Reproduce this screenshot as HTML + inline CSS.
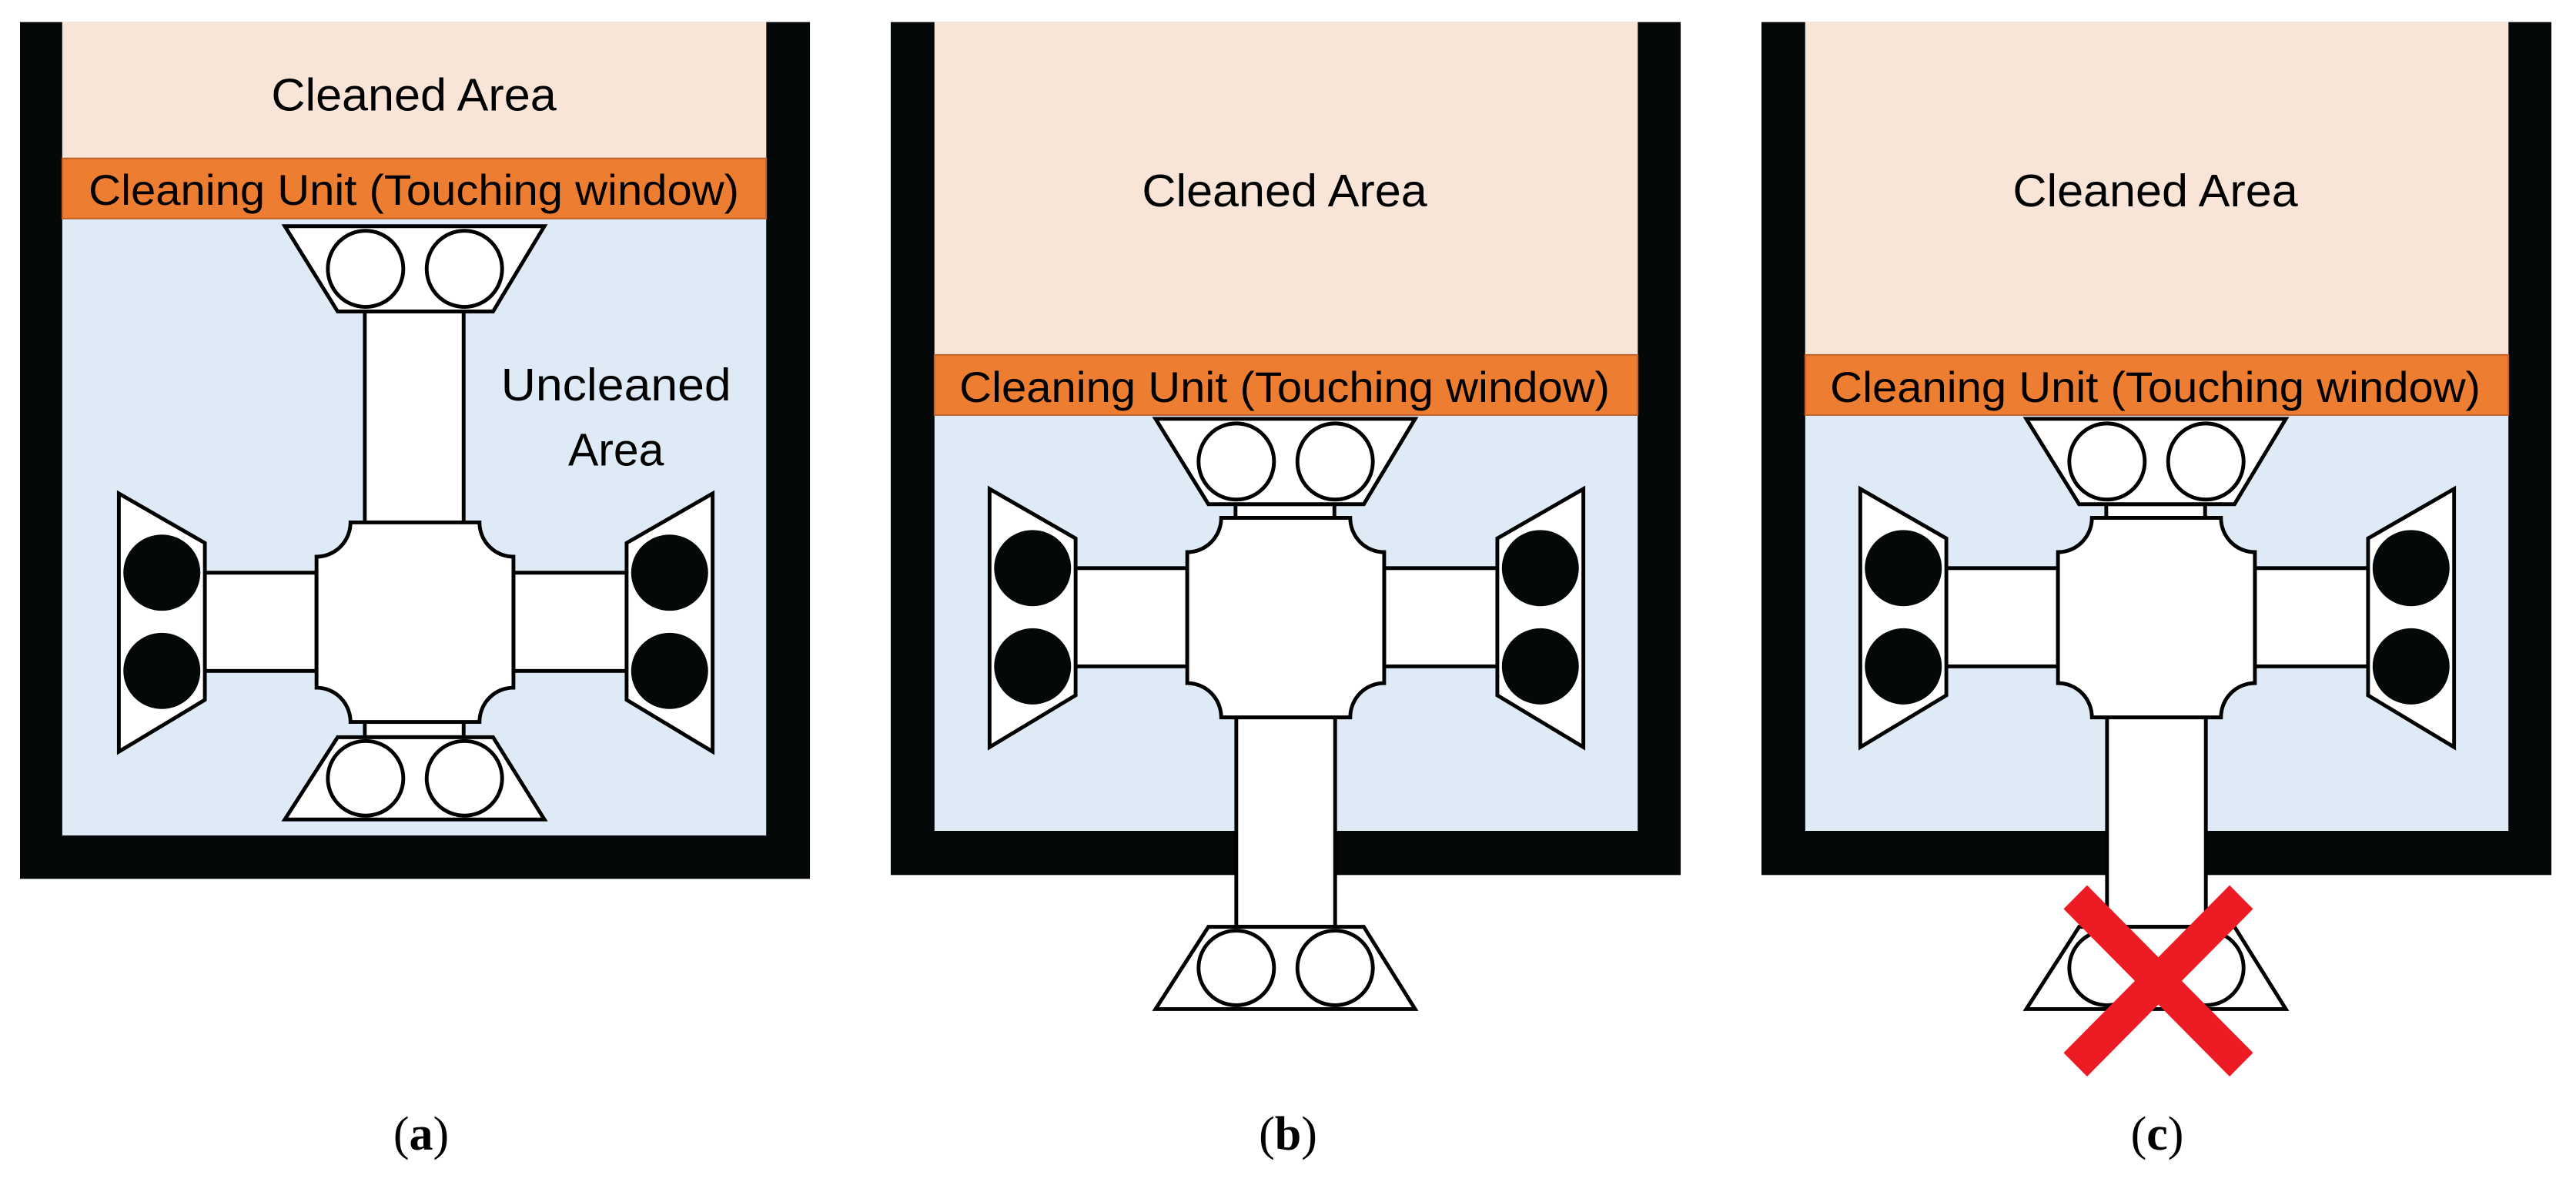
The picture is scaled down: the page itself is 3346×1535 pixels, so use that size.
<!DOCTYPE html>
<html><head><meta charset="utf-8"><style>
html,body{margin:0;padding:0;background:#fff}
svg{display:block}
text{font-family:"Liberation Sans",sans-serif;fill:#000}
</style></head><body>
<svg width="3346" height="1535" viewBox="0 0 3346 1535" xmlns="http://www.w3.org/2000/svg">
<defs>
<g id="side">
  <rect x="271" y="752" width="148" height="129" fill="#fff" stroke="#000" stroke-width="5"/>
  <rect x="680" y="752" width="150" height="129" fill="#fff" stroke="#000" stroke-width="5"/>
  <polygon points="157,648 271,713 271,919 157,987" fill="#fff" stroke="#000" stroke-width="5"/>
  <ellipse cx="214" cy="752" rx="51" ry="50" fill="#040809"/>
  <ellipse cx="214" cy="881" rx="51" ry="50" fill="#040809"/>
  <polygon points="944,648 830,713 830,919 944,987" fill="#fff" stroke="#000" stroke-width="5"/>
  <ellipse cx="887" cy="752" rx="51" ry="50" fill="#040809"/>
  <ellipse cx="887" cy="881" rx="51" ry="50" fill="#040809"/>
  <path d="M464,686 H635 A45,45 0 0 0 680,731 V903 A45,45 0 0 0 635,948 H464 A45,45 0 0 0 419,903 V731 A45,45 0 0 0 464,686 Z" fill="#fff" stroke="#000" stroke-width="5"/>
</g>
<g id="toptrap">
  <polygon points="377,0 721,0 653,112 447,112" fill="#fff" stroke="#000" stroke-width="5"/>
  <ellipse cx="484" cy="56" rx="50" ry="50" fill="#fff" stroke="#000" stroke-width="5"/>
  <ellipse cx="615" cy="56" rx="50" ry="50" fill="#fff" stroke="#000" stroke-width="5"/>
</g>
<g id="bottrap">
  <polygon points="447,0 653,0 721,108 377,108" fill="#fff" stroke="#000" stroke-width="5"/>
  <ellipse cx="484" cy="54" rx="50" ry="49" fill="#fff" stroke="#000" stroke-width="5"/>
  <ellipse cx="615" cy="54" rx="50" ry="49" fill="#fff" stroke="#000" stroke-width="5"/>
</g>
</defs>

<!-- Panel a -->
<g>
 <g transform="translate(26,0) scale(0.98,0.989) translate(-26,0)">
  <rect x="26" y="29" width="1047" height="1125" fill="#040809"/>
  <rect x="82" y="29" width="933" height="1068" fill="#deebf7"/>
  <rect x="82" y="29" width="933" height="179" fill="#f8e5d8"/>
  <rect x="82" y="208" width="933" height="79" fill="#ed7d31" stroke="#c0602a" stroke-width="2"/>
  <text x="548" y="145" font-size="60" text-anchor="middle" textLength="378" lengthAdjust="spacingAndGlyphs">Cleaned Area</text>
  <text x="548" y="269" font-size="56" text-anchor="middle" textLength="862" lengthAdjust="spacingAndGlyphs">Cleaning Unit (Touching window)</text>
  <text x="816" y="526" font-size="60" text-anchor="middle" textLength="305" lengthAdjust="spacingAndGlyphs">Uncleaned</text>
  <text x="816" y="611" font-size="60" text-anchor="middle" textLength="127" lengthAdjust="spacingAndGlyphs">Area</text>
  <rect x="483" y="409" width="131" height="277" fill="#fff" stroke="#000" stroke-width="5"/>
  <rect x="483" y="948" width="131" height="20" fill="#fff" stroke="#000" stroke-width="5"/>
  <use href="#side"/>
  <use href="#toptrap" y="297"/>
  <use href="#bottrap" y="968"/>
 </g>
  <text x="547" y="1493" font-size="62" text-anchor="middle" style="font-family:'Liberation Serif',serif">(<tspan font-weight="bold">a</tspan>)</text>
</g>

<!-- Panel b -->
<g transform="translate(1131,0)">
 <g transform="translate(26,0) scale(0.98,0.989) translate(-26,0)">
  <rect x="26" y="29" width="1047" height="1120" fill="#040809"/>
  <rect x="84" y="29" width="932" height="1062" fill="#deebf7"/>
  <rect x="84" y="29" width="932" height="437" fill="#f8e5d8"/>
  <rect x="84" y="466" width="932" height="79" fill="#ed7d31" stroke="#c0602a" stroke-width="2"/>
  <text x="548" y="271" font-size="60" text-anchor="middle" textLength="378" lengthAdjust="spacingAndGlyphs">Cleaned Area</text>
  <text x="548" y="528" font-size="56" text-anchor="middle" textLength="862" lengthAdjust="spacingAndGlyphs">Cleaning Unit (Touching window)</text>
  <rect x="483" y="662" width="131" height="20" fill="#fff" stroke="#000" stroke-width="5"/>
  <rect x="484" y="941" width="131" height="276" fill="#fff" stroke="#000" stroke-width="5"/>
  <use href="#side" y="-6"/>
  <use href="#toptrap" y="550"/>
  <use href="#bottrap" y="1217"/>
 </g>
  <text x="542" y="1493" font-size="62" text-anchor="middle" style="font-family:'Liberation Serif',serif">(<tspan font-weight="bold">b</tspan>)</text>
</g>

<!-- Panel c -->
<g transform="translate(2262,0)">
 <g transform="translate(26,0) scale(0.98,0.989) translate(-26,0)">
  <rect x="26" y="29" width="1047" height="1120" fill="#040809"/>
  <rect x="84" y="29" width="932" height="1062" fill="#deebf7"/>
  <rect x="84" y="29" width="932" height="437" fill="#f8e5d8"/>
  <rect x="84" y="466" width="932" height="79" fill="#ed7d31" stroke="#c0602a" stroke-width="2"/>
  <text x="548" y="271" font-size="60" text-anchor="middle" textLength="378" lengthAdjust="spacingAndGlyphs">Cleaned Area</text>
  <text x="548" y="528" font-size="56" text-anchor="middle" textLength="862" lengthAdjust="spacingAndGlyphs">Cleaning Unit (Touching window)</text>
  <rect x="483" y="662" width="131" height="20" fill="#fff" stroke="#000" stroke-width="5"/>
  <rect x="484" y="941" width="131" height="276" fill="#fff" stroke="#000" stroke-width="5"/>
  <use href="#side" y="-6"/>
  <use href="#toptrap" y="550"/>
  <use href="#bottrap" y="1217"/>
  <g stroke="#ed1c24" stroke-width="44" stroke-linecap="butt">
    <line x1="442" y1="1178" x2="662" y2="1398"/>
    <line x1="662" y1="1178" x2="442" y2="1398"/>
  </g>
 </g>
  <text x="540" y="1493" font-size="62" text-anchor="middle" style="font-family:'Liberation Serif',serif">(<tspan font-weight="bold">c</tspan>)</text>
</g>
</svg>
</body></html>
